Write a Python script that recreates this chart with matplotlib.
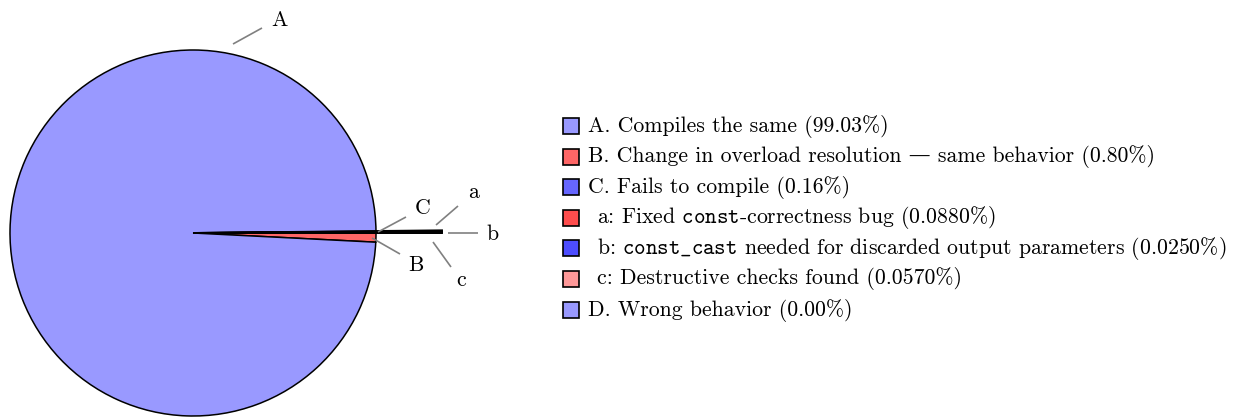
import matplotlib
matplotlib.use("Agg")
import matplotlib.pyplot as plt
from matplotlib.patches import Rectangle

plt.rcParams.update({"font.family": ["cmr10", "DejaVu Serif"], "mathtext.fontset": "cm",
                     "axes.unicode_minus": False})

# main slices (percent)
main_keys = ["A", "B", "C", "D"]
main_vals = [99.03, 0.80, 0.16, 0.00]
main_cols = ["#9999ff", "#ff6666", "#6666ff", "#9999ff"]
# breakdown of C (percent)
sub_keys = ["a", "b", "c"]
sub_vals = [0.0880, 0.0250, 0.0570]
sub_cols = ["#ff4d4d", "#4d4dff", "#ff9999"]

legend_labels = [
    "A. Compiles the same (99.03%)",
    "B. Change in overload resolution \u2014 same behavior (0.80%)",
    "C. Fails to compile (0.16%)",
    r"a: Fixed $\mathtt{const}$-correctness bug (0.0880%)",
    r"b: $\mathtt{const\_cast}$ needed for discarded output parameters (0.0250%)",
    "c: Destructive checks found (0.0570%)",
    "D. Wrong behavior (0.00%)",
]
legend_cols = main_cols[:3] + sub_cols + main_cols[3:]
legend_indent = [0, 0, 0, 1, 1, 1, 0]

W, H = 1241, 418
CX, CY, R = 193, 233, 183  # pie centre / radius in pixels
FS = 15.7

fig = plt.figure(figsize=(W / 100, H / 100), dpi=100)
ax = fig.add_axes([0, 0, 1, 1])

edge = dict(edgecolor="black", linewidth=1.1)
# B below the horizontal, C just above it, A takes the rest
frac = [v / 100 for v in main_vals]
order = [1, 2, 0]
ax.pie([frac[i] for i in order], colors=[main_cols[i] for i in order],
       startangle=-main_vals[1] * 3.6, counterclock=True, wedgeprops=edge)
# C broken down, drawn with a longer radius (c lowest, a highest)
sub_order = [2, 1, 0]
ax.pie([sub_vals[i] / 100 for i in sub_order], colors=[sub_cols[i] for i in sub_order],
       radius=249 / R, startangle=0, counterclock=True, normalize=False,
       wedgeprops=dict(edgecolor="black", linewidth=1.4))

ax.set_xlim(-CX / R, (W - CX) / R)
ax.set_ylim(-(H - CY) / R, CY / R)
ax.set_aspect("auto")
ax.axis("off")


def d(px, py):
    return (px - CX) / R, (CY - py) / R


# slice labels with grey leaders: (text pos, leader start, leader end)
callouts = [
    ("A", (279, 20), (233, 44), (262, 28)),
    ("B", (416, 265), (372, 238), (400, 254)),
    ("C", (423, 208), (378, 232), (406, 217)),
    ("a", (474, 192), (436, 225), (458, 206)),
    ("b", (493, 234), (448, 233), (478, 233)),
    ("c", (461, 280), (433, 242), (451, 267)),
]
for lab, t, p0, p1 in callouts:
    (x0, y0), (x1, y1) = d(*p0), d(*p1)
    ax.plot([x0, x1], [y0, y1], color="#808080", lw=1.2, solid_capstyle="butt")
    ax.text(*d(*t), lab, ha="center", va="center", fontsize=FS)

# legend
row_y = [126, 157, 187, 218, 248, 279, 310]
for lab, col, ind, y in zip(legend_labels, legend_cols, legend_indent, row_y):
    fig.patches.append(Rectangle((563 / W, 1 - (y + 8) / H), 16 / W, 16 / H,
                                 transform=fig.transFigure, facecolor=col,
                                 edgecolor="black", linewidth=1.2))
    fig.text((588 + 9 * ind) / W, 1 - y / H, lab, ha="left", va="center", fontsize=FS)

fig.savefig("out.png", dpi=100, facecolor="white")
